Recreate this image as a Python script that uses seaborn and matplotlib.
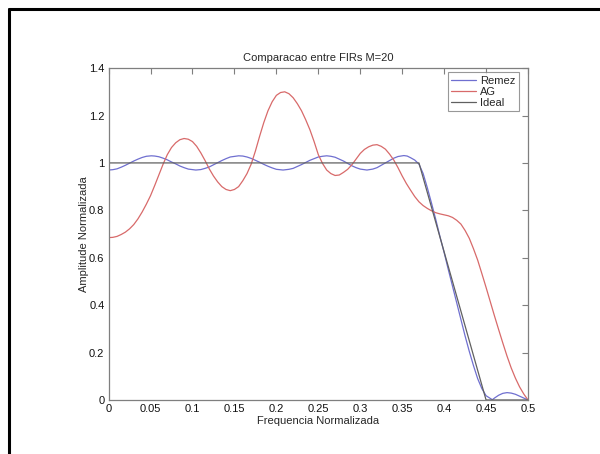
import numpy as np
import pandas as pd
import seaborn as sns
import matplotlib
matplotlib.use("Agg")
import matplotlib.pyplot as plt
from matplotlib.lines import Line2D

### Values ###
ideal_f = [0.0, 0.37, 0.45, 0.5]
ideal_a = [1.0, 1.0, 0.0, 0.0]

remez_f = [0.0, 0.005, 0.01, 0.015, 0.02, 0.025, 0.03, 0.035, 0.04, 0.045, 0.051,
           0.055, 0.06, 0.065, 0.07, 0.075, 0.08, 0.085, 0.09, 0.095, 0.104,
           0.11, 0.115, 0.12, 0.125, 0.13, 0.135, 0.14, 0.145, 0.155,
           0.16, 0.165, 0.17, 0.175, 0.18, 0.185, 0.19, 0.195, 0.20, 0.208,
           0.215, 0.22, 0.225, 0.23, 0.235, 0.24, 0.245, 0.25, 0.255, 0.26,
           0.265, 0.27, 0.275, 0.28, 0.285, 0.29, 0.295, 0.30, 0.308,
           0.315, 0.32, 0.325, 0.33, 0.335, 0.34, 0.345, 0.352, 0.356, 0.36,
           0.365, 0.37, 0.375, 0.38, 0.385, 0.39, 0.395, 0.40, 0.405, 0.41,
           0.415, 0.42, 0.425, 0.43, 0.435, 0.44, 0.445, 0.45, 0.4575,
           0.46, 0.465, 0.47, 0.475, 0.48, 0.485, 0.49, 0.495, 0.5]
remez_a = [0.970, 0.9715, 0.975, 0.982, 0.990, 0.999, 1.008, 1.016, 1.023, 1.028, 1.030,
           1.029, 1.026, 1.020, 1.013, 1.004, 0.996, 0.987, 0.980, 0.974, 0.970,
           0.972, 0.977, 0.983, 0.992, 1.001, 1.010, 1.018, 1.025, 1.030,
           1.029, 1.025, 1.019, 1.011, 1.003, 0.994, 0.986, 0.979, 0.973, 0.970,
           0.973, 0.977, 0.985, 0.993, 1.002, 1.011, 1.018, 1.025, 1.028, 1.030,
           1.028, 1.024, 1.016, 1.008, 0.998, 0.988, 0.980, 0.974, 0.970,
           0.974, 0.980, 0.990, 1.000, 1.010, 1.020, 1.027, 1.031, 1.029, 1.022,
           1.012, 0.995, 0.955, 0.895, 0.830, 0.762, 0.690, 0.622, 0.550, 0.480,
           0.410, 0.340, 0.270, 0.205, 0.145, 0.090, 0.048, 0.018, 0.001,
           0.008, 0.020, 0.028, 0.031, 0.029, 0.024, 0.016, 0.008, 0.0]

ag_f = [0.0, 0.005, 0.01, 0.015, 0.02, 0.025, 0.03, 0.035, 0.04, 0.045, 0.05,
        0.055, 0.06, 0.065, 0.07, 0.075, 0.08, 0.085, 0.09, 0.095, 0.10,
        0.105, 0.11, 0.115, 0.12, 0.125, 0.13, 0.135, 0.14, 0.145, 0.15,
        0.155, 0.16, 0.165, 0.17, 0.175, 0.18, 0.185, 0.19, 0.195, 0.20,
        0.205, 0.21, 0.215, 0.22, 0.225, 0.23, 0.235, 0.24, 0.245, 0.25,
        0.255, 0.26, 0.265, 0.27, 0.275, 0.28, 0.285, 0.29, 0.295, 0.30,
        0.305, 0.31, 0.315, 0.32, 0.325, 0.33, 0.335, 0.34, 0.345, 0.35,
        0.355, 0.36, 0.365, 0.37, 0.375, 0.38, 0.385, 0.39, 0.395, 0.40,
        0.405, 0.41, 0.415, 0.42, 0.425, 0.43, 0.435, 0.44, 0.445, 0.45,
        0.455, 0.46, 0.465, 0.47, 0.475, 0.48, 0.485, 0.49, 0.495, 0.5]
ag_a = [0.685, 0.686, 0.690, 0.698, 0.708, 0.722, 0.740, 0.764, 0.793, 0.826, 0.862,
        0.905, 0.950, 0.995, 1.035, 1.065, 1.085, 1.098, 1.103, 1.100, 1.090,
        1.070, 1.042, 1.010, 0.975, 0.945, 0.920, 0.900, 0.888, 0.883, 0.888,
        0.900, 0.925, 0.955, 0.995, 1.050, 1.112, 1.170, 1.220, 1.258, 1.285,
        1.297, 1.300, 1.292, 1.275, 1.250, 1.220, 1.182, 1.140, 1.090, 1.035,
        0.998, 0.970, 0.955, 0.947, 0.949, 0.960, 0.973, 0.992, 1.016, 1.040,
        1.057, 1.068, 1.075, 1.077, 1.070, 1.058, 1.037, 1.012, 0.980, 0.945,
        0.913, 0.885, 0.858, 0.836, 0.820, 0.808, 0.798, 0.790, 0.785, 0.781,
        0.777, 0.770, 0.758, 0.742, 0.715, 0.682, 0.638, 0.590, 0.533, 0.475,
        0.415, 0.355, 0.297, 0.240, 0.185, 0.135, 0.092, 0.055, 0.025, 0.0]

xticks = [0, 0.05, 0.1, 0.15, 0.2, 0.25, 0.3, 0.35, 0.4, 0.45, 0.5]
xtick_labels = ["0", "0.05", "0.1", "0.15", "0.2", "0.25", "0.3", "0.35", "0.4", "0.45", "0.5"]
yticks = [0, 0.2, 0.4, 0.6, 0.8, 1.0, 1.2, 1.4]
ytick_labels = ["0", "0.2", "0.4", "0.6", "0.8", "1", "1.2", "1.4"]

### Style: MATLAB look ###
sns.set_theme(style="white")
plt.rcParams['font.family'] = ['Liberation Sans', 'DejaVu Sans']
plt.rcParams['font.size'] = 8

colors = {"Remez": "#6f6fd0", "AG": "#d86a6a", "Ideal": "#606060"}
axis_grey = "#7f7f7f"

fig = plt.figure(figsize=(6.0, 4.54), dpi=100)
ax = fig.add_axes([0.181, 0.119, 0.699, 0.731])

remez = pd.DataFrame({"f": remez_f, "a": remez_a})
ag = pd.DataFrame({"f": ag_f, "a": ag_a})
ideal = pd.DataFrame({"f": ideal_f, "a": ideal_a})

sns.lineplot(data=remez, x="f", y="a", sort=False, color=colors["Remez"], lw=0.9, ax=ax)
sns.lineplot(data=ag, x="f", y="a", sort=False, color=colors["AG"], lw=0.9, ax=ax)
sns.lineplot(data=ideal, x="f", y="a", sort=False, color=colors["Ideal"], lw=0.9, ax=ax)

ax.set_xlim(0, 0.5)
ax.set_ylim(0, 1.4)
ax.set_xticks(xticks)
ax.set_xticklabels(xtick_labels)
ax.set_yticks(yticks)
ax.set_yticklabels(ytick_labels)
ax.tick_params(direction="in", length=4, width=0.8, color=axis_grey,
               top=True, right=True, labelsize=8, labelcolor="#111111", pad=3)
for sp in ax.spines.values():
    sp.set_color(axis_grey)
    sp.set_linewidth(0.9)

ax.set_title("Comparacao entre FIRs M=20", fontsize=8, pad=5)
ax.set_xlabel("Frequencia Normalizada", fontsize=8, labelpad=1)
ax.set_ylabel("Amplitude Normalizada", fontsize=8, labelpad=0)

handles = [Line2D([], [], color=colors[k], lw=0.9) for k in ["Remez", "AG", "Ideal"]]
leg = ax.legend(handles, ["Remez", "AG", "Ideal"], loc="upper right",
                bbox_to_anchor=(0.9786, 0.987), fontsize=8, frameon=True,
                fancybox=False, borderpad=0.3, labelspacing=0.1,
                handlelength=2.2, handletextpad=0.4, borderaxespad=0)
leg.get_frame().set_edgecolor(axis_grey)
leg.get_frame().set_linewidth(0.8)

### Outer figure frame (screenshot border) ###
fig.add_artist(Line2D([8.5 / 600, 8.5 / 600], [0, 1 - 9 / 454], color="black",
                      lw=2.2, transform=fig.transFigure))
fig.add_artist(Line2D([8.5 / 600, 1], [1 - 9 / 454, 1 - 9 / 454], color="black",
                      lw=2.2, transform=fig.transFigure))

fig.savefig("out.png", dpi=100, facecolor="white")
